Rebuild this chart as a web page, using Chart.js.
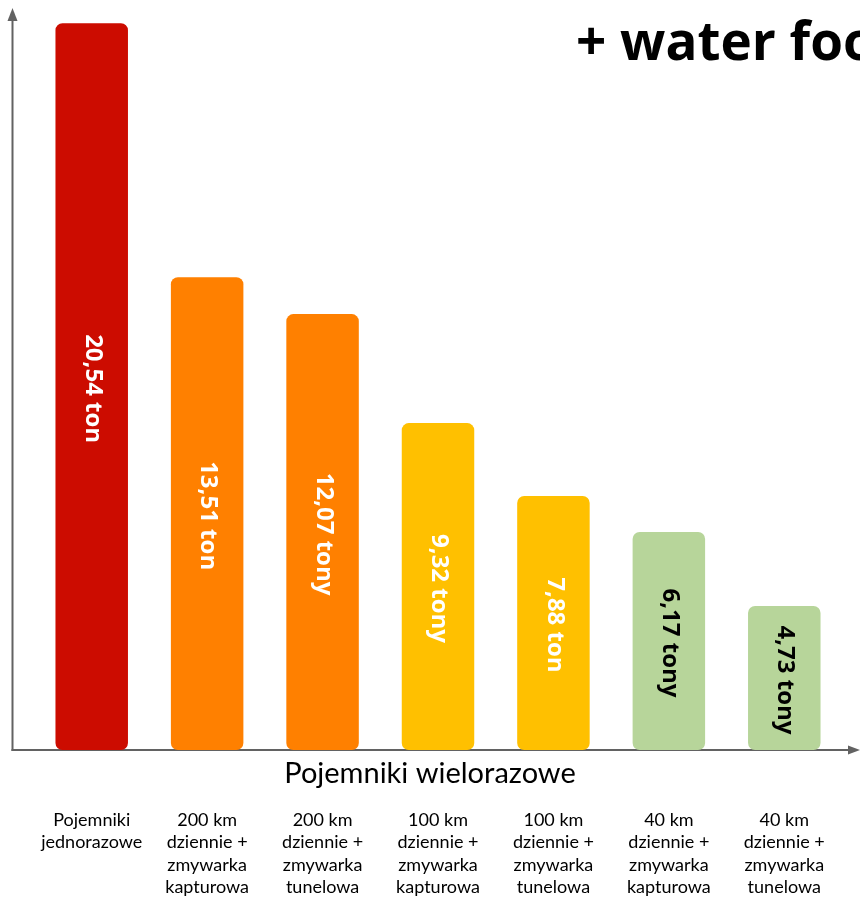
<!DOCTYPE html>
<html><head><meta charset="utf-8">
<script src="https://cdn.jsdelivr.net/npm/chart.js@4"></script>
<style>html,body{margin:0;padding:0;background:#fff;overflow:hidden}#wrap{width:860px;height:897px;position:relative}</style>
</head><body><div id="wrap"><canvas id="c" width="860" height="897"></canvas></div>
<script>
const categories = [
  ['Pojemniki', 'jednorazowe'],
  ['200 km', 'dziennie +', 'zmywarka', 'kapturowa'],
  ['200 km', 'dziennie +', 'zmywarka', 'tunelowa'],
  ['100 km', 'dziennie +', 'zmywarka', 'kapturowa'],
  ['100 km', 'dziennie +', 'zmywarka', 'tunelowa'],
  ['40 km', 'dziennie +', 'zmywarka', 'kapturowa'],
  ['40 km', 'dziennie +', 'zmywarka', 'tunelowa']
];
const barValues = [20.54, 13.36, 12.32, 9.24, 7.18, 6.16, 4.07];
const barLabels = ['20,54 ton', '13,51 ton', '12,07 tony', '9,32 tony', '7,88 ton', '6,17 tony', '4,73 tony'];
const barColors = ['#cc0c00', '#ff8000', '#ff8000', '#ffc000', '#ffc000', '#b7d59a', '#b7d59a'];
const labelColors = ['#ffffff', '#ffffff', '#ffffff', '#ffffff', '#ffffff', '#000000', '#000000'];
const groupTitle = 'Pojemniki wielorazowe';
const chartTitle = '+ water footprint';

const AXIS_COLOR = '#626262';

const decor = {
  id: 'decor',
  beforeDatasetsDraw(chart) {
    const {ctx, chartArea: a} = chart;
    const x0 = a.left - 22, y0 = a.bottom;
    ctx.save();
    ctx.strokeStyle = AXIS_COLOR; ctx.fillStyle = AXIS_COLOR; ctx.lineWidth = 2;
    // y axis
    ctx.beginPath(); ctx.moveTo(x0 + 0.5, y0 + 1); ctx.lineTo(x0 + 0.5, a.top + 10); ctx.stroke();
    ctx.beginPath(); ctx.moveTo(x0 + 0.5, a.top + 1); ctx.lineTo(x0 - 4.5, a.top + 14); ctx.lineTo(x0 + 5.5, a.top + 14); ctx.closePath(); ctx.fill();
    // x axis
    ctx.beginPath(); ctx.moveTo(x0 - 0.5, y0); ctx.lineTo(a.right + 8, y0); ctx.stroke();
    ctx.beginPath(); ctx.moveTo(a.right + 18, y0); ctx.lineTo(a.right + 6, y0 - 4.5); ctx.lineTo(a.right + 6, y0 + 4.5); ctx.closePath(); ctx.fill();
    ctx.restore();
  },
  afterDatasetsDraw(chart) {
    const {ctx} = chart;
    const meta = chart.getDatasetMeta(0);
    ctx.save();
    ctx.font = 'bold 24px "Open Sans"';
    ctx.textAlign = 'center'; ctx.textBaseline = 'middle';
    meta.data.forEach((el, i) => {
      const ym = (el.y + el.base) / 2 + 2;
      ctx.save();
      ctx.translate(el.x + 1, ym);
      ctx.rotate(Math.PI / 2);
      ctx.fillStyle = labelColors[i];
      ctx.fillText(barLabels[i], 0, 0);
      ctx.restore();
    });
    ctx.restore();
  },
  afterDraw(chart) {
    const {ctx, chartArea: a, width} = chart;
    ctx.save();
    ctx.fillStyle = '#000';
    ctx.font = '29px Lato';
    ctx.textAlign = 'center'; ctx.textBaseline = 'alphabetic';
    ctx.fillText(groupTitle, width / 2, a.bottom + 33);
    ctx.font = 'bold 53px "Open Sans"';
    ctx.textAlign = 'left';
    ctx.fillText(chartTitle, 576, 60);
    ctx.restore();
  }
};

new Chart(document.getElementById('c'), {
  type: 'bar',
  data: {
    labels: categories,
    datasets: [{
      data: barValues,
      backgroundColor: barColors,
      borderWidth: 0,
      borderRadius: 7,
      borderSkipped: false,
      categoryPercentage: 1,
      barPercentage: 0.628
    }]
  },
  options: {
    responsive: false,
    animation: false,
    devicePixelRatio: 1,
    layout: {padding: {top: 7, left: 34, right: 18, bottom: 0}},
    plugins: {legend: {display: false}, tooltip: {enabled: false}, title: {display: false}},
    scales: {
      x: {
        grid: {display: false, drawTicks: false},
        border: {display: false},
        ticks: {
          color: '#000', padding: 59, maxRotation: 0, minRotation: 0, autoSkip: false,
          font: {family: 'Lato', size: 18, lineHeight: 1.24}
        },
        afterFit(s) { s.height = 147; s.paddingLeft = 0; s.paddingRight = 0; }
      },
      y: {display: false, min: 0, max: 21}
    }
  },
  plugins: [decor]
});
</script>
</body></html>
